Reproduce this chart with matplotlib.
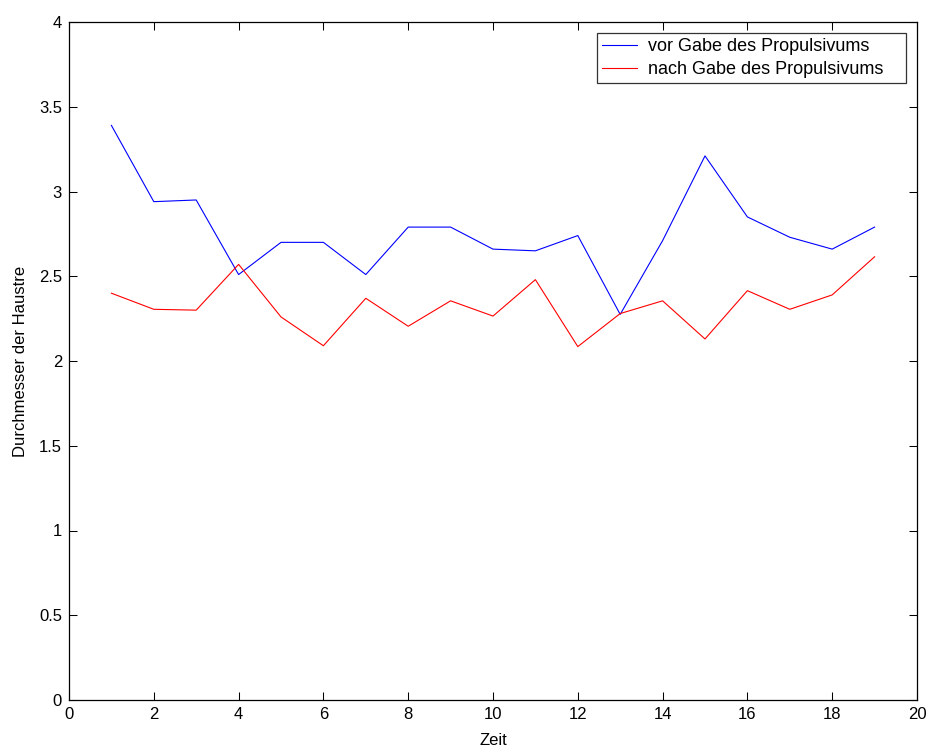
import matplotlib
matplotlib.use("Agg")
import matplotlib.pyplot as plt

zeit = list(range(1, 20))
vor = [3.39, 2.94, 2.95, 2.51, 2.70, 2.70, 2.51, 2.79, 2.79, 2.66,
       2.65, 2.74, 2.275, 2.71, 3.21, 2.85, 2.73, 2.66, 2.79]
nach = [2.40, 2.305, 2.30, 2.57, 2.26, 2.09, 2.37, 2.205, 2.355, 2.265,
        2.48, 2.085, 2.28, 2.355, 2.13, 2.415, 2.305, 2.39, 2.615]
labels = ["vor Gabe des Propulsivums", "nach Gabe des Propulsivums"]

plt.rcParams['font.family'] = ['Liberation Sans', 'DejaVu Sans']

fig = plt.figure(figsize=(9.30, 7.47), dpi=100)
ax = fig.add_axes([69/930, 1 - 700/747, (917-69)/930, (700-22)/747])
ax.plot(zeit, vor, color=(0, 0, 1), lw=0.8, label=labels[0])
ax.plot(zeit, nach, color=(1, 0, 0), lw=0.8, label=labels[1])
ax.set_xlim(0, 20)
ax.set_ylim(0, 4)
ax.set_xticks(range(0, 21, 2))
ax.set_yticks([0, 0.5, 1, 1.5, 2, 2.5, 3, 3.5, 4])
ax.set_yticklabels(["0", "0.5", "1", "1.5", "2", "2.5", "3", "3.5", "4"])
ax.tick_params(direction='in', top=True, right=True, length=5.5, width=0.75,
               labelsize=12, pad=5)
for s in ax.spines.values():
    s.set_linewidth(0.9)
ax.set_xlabel("Zeit", fontsize=12, labelpad=8)
ax.set_ylabel("Durchmesser der Haustre", fontsize=12, labelpad=8)
leg = ax.legend(loc='upper left',
                bbox_to_anchor=(597/930, 1 - 83/747, 309/930, 50/747),
                bbox_transform=fig.transFigure, mode='expand',
                fontsize=13, frameon=True,
                fancybox=False, edgecolor='black', borderpad=0.3,
                handlelength=1.9, handletextpad=0.6, labelspacing=0.3,
                borderaxespad=0)
leg.get_frame().set_linewidth(0.9)
fig.savefig("out.png", dpi=100, facecolor='white')
